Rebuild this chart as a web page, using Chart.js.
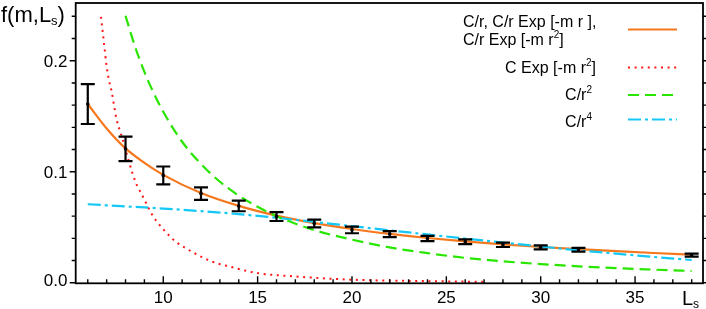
<!DOCTYPE html>
<html><head><meta charset="utf-8">
<script src="https://cdn.jsdelivr.net/npm/chart.js@4.4.1/dist/chart.umd.min.js"></script>
<style>html,body{margin:0;padding:0;background:#fff;overflow:hidden}</style>
</head><body>
<canvas id="c" width="706" height="309"></canvas>
<script>
// ---- data ----
const sizesL   = [6, 8, 10, 12, 14, 16, 18, 20, 22, 24, 26, 28, 30, 32, 38];
const fValues  = [0.161, 0.1206, 0.0967, 0.0803, 0.0692, 0.0596, 0.0534, 0.0476, 0.0438, 0.0399, 0.0369, 0.0342, 0.0318, 0.0297, 0.0249];
const fErrors  = [0.018, 0.011, 0.008, 0.0057, 0.0048, 0.004, 0.0035, 0.003, 0.0027, 0.0024, 0.0022, 0.002, 0.0018, 0.0017, 0.0013];

const orangeL  = [6, 7, 8, 9, 10, 12, 14, 16, 18, 20, 22, 24, 26, 28, 30, 32, 34, 36, 38];
const orangeF  = [0.161, 0.139, 0.121, 0.108, 0.0972, 0.0808, 0.0692, 0.0604, 0.0537, 0.0484, 0.044, 0.0403, 0.0372, 0.0345, 0.0322, 0.0302, 0.0284, 0.0268, 0.0254];

const redL     = [6.70, 6.86, 7.0, 7.12, 7.28, 7.40, 7.53, 7.74, 7.85, 8.15, 8.36, 8.62, 8.80, 9.12, 9.47, 9.68, 9.92, 10.41, 10.71, 11.27, 11.91, 12.47, 12.97, 13.35, 14.94, 16.9, 19.9, 22.5, 24.8, 27];
const redF     = [0.2396, 0.2157, 0.1947, 0.1828, 0.1709, 0.1588, 0.1469, 0.1350, 0.129, 0.111, 0.0991, 0.0871, 0.0817, 0.0707, 0.0596, 0.0548, 0.0498, 0.0408, 0.0363, 0.0303, 0.0243, 0.0198, 0.0169, 0.0153, 0.0088, 0.0058, 0.0028, 0.0018, 0.0013, 0.0008];

const greenL   = [8, 8.5, 9, 9.5, 10, 11, 12, 13, 14, 15, 16, 18, 20, 22, 24, 26, 28, 30, 32, 34, 36, 38];
const greenF   = [0.2405, 0.213, 0.190, 0.1706, 0.154, 0.127, 0.107, 0.091, 0.0785, 0.0684, 0.060, 0.0475, 0.0388, 0.0318, 0.0267, 0.0224, 0.0193, 0.0168, 0.0148, 0.0131, 0.0118, 0.0106];

const cyanL    = [6, 8, 10, 12, 14, 16, 18, 20, 22, 24, 26, 28, 30, 32, 34, 36, 38];
const cyanF    = [0.0707, 0.0688, 0.0668, 0.0645, 0.0618, 0.0585, 0.0548, 0.051, 0.0472, 0.0435, 0.0398, 0.0362, 0.0327, 0.0292, 0.0262, 0.0232, 0.0205];

const xTickValues = [10, 15, 20, 25, 30, 35];
const yTickValues = [0, 0.1, 0.2];
const xMinorStep = 1;
const yMinorStep = 0.02;

const FONT = "'Liberation Sans', Arial, sans-serif";
const COL_ORANGE = 'rgb(245,120,30)';
const COL_RED = 'rgb(255,20,20)';
const COL_GREEN = 'rgb(40,230,0)';
const COL_CYAN = 'rgb(20,200,245)';

function pts(xs, ys) { return xs.map((x, i) => ({ x: x, y: ys[i] })); }

function richText(ctx, x, y, segs, size, align) {
  // segs: [text, mode] mode 0 normal, 1 sup, 2 sub
  const small = Math.round(size * 0.6);
  let w = 0;
  const widths = segs.map(s => {
    ctx.font = (s[1] ? small : size) + 'px ' + FONT;
    const m = ctx.measureText(s[0]).width;
    w += m; return m;
  });
  let cx = align === 'right' ? x - w : (align === 'center' ? x - w / 2 : x);
  segs.forEach((s, i) => {
    ctx.font = (s[1] ? small : size) + 'px ' + FONT;
    let yy = y;
    if (s[1] === 1) yy = y - size * 0.42;
    if (s[1] === 2) yy = y + size * 0.14;
    ctx.fillText(s[0], cx, yy);
    cx += widths[i];
  });
}

const decor = {
  id: 'decor',
  afterDatasetsDraw(chart) {
    const ctx = chart.ctx, xs = chart.scales.x, ys = chart.scales.y;
    ctx.save();
    // error bars
    ctx.strokeStyle = '#000'; ctx.fillStyle = '#000'; ctx.lineWidth = 2.2; ctx.lineCap = 'butt';
    sizesL.forEach((L, i) => {
      const px = xs.getPixelForValue(L);
      const t = ys.getPixelForValue(fValues[i] + fErrors[i]);
      const b = ys.getPixelForValue(fValues[i] - fErrors[i]);
      const c = ys.getPixelForValue(fValues[i]);
      ctx.beginPath();
      ctx.moveTo(px, t); ctx.lineTo(px, b);
      ctx.moveTo(px - 7, t); ctx.lineTo(px + 7, t);
      ctx.moveTo(px - 7, b); ctx.lineTo(px + 7, b);
      ctx.stroke();
      ctx.beginPath(); ctx.arc(px, c, 1.8, 0, Math.PI * 2); ctx.fill();
    });
    ctx.restore();
  },
  afterDraw(chart) {
    const ctx = chart.ctx, xs = chart.scales.x, ys = chart.scales.y, ca = chart.chartArea;
    ctx.save();
    // frame
    ctx.strokeStyle = '#000'; ctx.lineWidth = 1.8;
    ctx.strokeRect(ca.left, ca.top, ca.right - ca.left, ca.bottom - ca.top);
    // x ticks (inward from bottom)
    ctx.lineWidth = 1.4;
    ctx.beginPath();
    for (let v = Math.ceil(xs.min); v <= xs.max; v += xMinorStep) {
      const p = xs.getPixelForValue(v);
      const len = (v % 5 === 0) ? 7 : 4;
      ctx.moveTo(p, ca.bottom); ctx.lineTo(p, ca.bottom - len);
    }
    // y ticks (outward on left and right)
    for (let k = 0; k * yMinorStep <= 0.2401; k++) {
      const v = k * yMinorStep;
      const p = ys.getPixelForValue(v);
      const major = (k % 5 === 0);
      ctx.moveTo(ca.left, p); ctx.lineTo(ca.left - (major ? 6 : 4), p);
      ctx.moveTo(ca.right, p); ctx.lineTo(ca.right + (major ? 6 : 4), p);
    }
    ctx.stroke();

    ctx.fillStyle = '#000'; ctx.textBaseline = 'alphabetic'; ctx.textAlign = 'left';
    // x tick labels
    xTickValues.forEach(v => {
      richText(ctx, xs.getPixelForValue(v), 302.5, [[String(v), 0]], 17, 'center');
    });
    // y tick labels
    yTickValues.forEach(v => {
      let p = ys.getPixelForValue(v);
      if (v === 0) p -= 3;
      richText(ctx, 67.5, p + 6, [[v.toFixed(1), 0]], 17, 'right');
    });

    // axis titles
    richText(ctx, 1, 22, [['f(m,L', 0], ['s', 2], [')', 0]], 22, 'left');
    richText(ctx, 682, 305, [['L', 0], ['s', 2]], 20, 'left');

    // legend
    const fs = 16;
    richText(ctx, 463, 27, [['C/r, C/r Exp [-m r ],', 0]], fs, 'left');
    richText(ctx, 463, 45, [['C/r Exp [-m r', 0], ['2', 1], [']', 0]], fs, 'left');
    richText(ctx, 596, 73, [['C Exp [-m r', 0], ['2', 1], [']', 0]], fs, 'right');
    richText(ctx, 592, 100, [['C/r', 0], ['2', 1]], fs, 'right');
    richText(ctx, 592, 127, [['C/r', 0], ['4', 1]], fs, 'right');

    const lx0 = 628, lx1 = 677;
    const samples = [
      [29.5, COL_ORANGE, [], 2.2],
      [67.5, COL_RED, [2, 4.6], 2],
      [95, COL_GREEN, [11, 6], 2.2],
      [119.5, COL_CYAN, [13, 4, 3, 4], 2.2]
    ];
    samples.forEach(s => {
      ctx.beginPath(); ctx.strokeStyle = s[1]; ctx.setLineDash(s[2]); ctx.lineWidth = s[3];
      ctx.moveTo(lx0, s[0]); ctx.lineTo(lx1, s[0]); ctx.stroke();
    });
    ctx.setLineDash([]);
    ctx.restore();
  }
};

new Chart(document.getElementById('c'), {
  type: 'line',
  data: {
    datasets: [
      { data: pts(redL, redF), borderColor: COL_RED, borderWidth: 2, borderDash: [2, 4.6], pointRadius: 0, cubicInterpolationMode: 'monotone', fill: false },
      { data: pts(greenL, greenF), borderColor: COL_GREEN, borderWidth: 2.2, borderDash: [11, 6], pointRadius: 0, cubicInterpolationMode: 'monotone', fill: false },
      { data: pts(cyanL, cyanF), borderColor: COL_CYAN, borderWidth: 2.2, borderDash: [13, 4, 3, 4], pointRadius: 0, cubicInterpolationMode: 'monotone', fill: false },
      { data: pts(orangeL, orangeF), borderColor: COL_ORANGE, borderWidth: 2.2, pointRadius: 0, cubicInterpolationMode: 'monotone', fill: false }
    ]
  },
  options: {
    responsive: false,
    animation: false,
    devicePixelRatio: 1,
    layout: { padding: { top: 3, right: 3, left: 0, bottom: 0 } },
    plugins: { legend: { display: false }, tooltip: { enabled: false } },
    scales: {
      x: {
        type: 'linear', min: 5.36, max: 38.6,
        grid: { display: false }, border: { display: false },
        afterBuildTicks: s => { s.ticks = xTickValues.map(v => ({ value: v })); },
        afterFit: s => { s.height = 25.7; },
        ticks: { display: false }
      },
      y: {
        type: 'linear', min: -0.0005, max: 0.252,
        grid: { display: false }, border: { display: false },
        afterBuildTicks: s => { s.ticks = yTickValues.map(v => ({ value: v })); },
        afterFit: s => { s.width = 75.7; },
        ticks: { display: false }
      }
    }
  },
  plugins: [decor]
});
</script>
</body></html>
